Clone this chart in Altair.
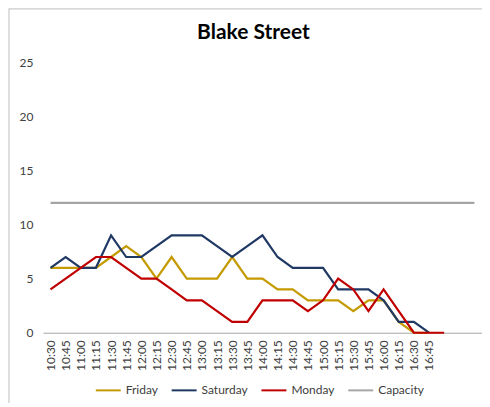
import altair as alt
import pandas as pd

times = ["10:30", "10:45", "11:00", "11:15", "11:30", "11:45", "12:00", "12:15",
         "12:30", "12:45", "13:00", "13:15", "13:30", "13:45", "14:00", "14:15",
         "14:30", "14:45", "15:00", "15:15", "15:30", "15:45", "16:00", "16:15",
         "16:30", "16:45", "17:00", "17:15", "17:30"]
friday = [6, 6, 6, 6, 7, 8, 7, 5, 7, 5, 5, 5, 7, 5, 5, 4, 4, 3, 3, 3, 2, 3, 3, 1, 0, 0]
saturday = [6, 7, 6, 6, 9, 7, 7, 8, 9, 9, 9, 8, 7, 8, 9, 7, 6, 6, 6, 4, 4, 4, 3, 1, 1, 0]
monday = [4, 5, 6, 7, 7, 6, 5, 5, 4, 3, 3, 2, 1, 1, 3, 3, 3, 2, 3, 5, 4, 2, 4, 2, 0, 0, 0]
capacity = [12, 12, 12, 12, 12, 12, 12, 12, 12, 12, 12, 12, 12, 12, 12, 12, 12, 12,
            12, 12, 12, 12, 12, 12, 12, 12, 12, 12, 12]
last_label = "16:45"
title_text = "Blake Street"

series = {"Friday": friday, "Saturday": saturday, "Monday": monday, "Capacity": capacity}
names = list(series.keys())
colors = ["#C49A00", "#1F3864", "#C00000", "#A5A5A5"]

rows = []
for name, vals in series.items():
    for i, v in enumerate(vals):
        rows.append({"time": times[i], "value": v, "series": name, "order": names.index(name)})
df = pd.DataFrame(rows)
tdf = pd.DataFrame({"title": [title_text]})

FONT = "Lato"

lines = alt.Chart(df).mark_line(strokeWidth=2.2).encode(
    x=alt.X("time:O", sort=times, scale=alt.Scale(domain=times, padding=0.5),
            axis=alt.Axis(title=None, labelAngle=-90, ticks=False, domainColor="#A6A6A6",
                          labelExpr=f"datum.value > '{last_label}' ? '' : datum.value",
                          labelPadding=7, labelFontSize=12, labelColor="#404040",
                          labelFont=FONT)),
    y=alt.Y("value:Q", scale=alt.Scale(domain=[0, 25]),
            axis=alt.Axis(title=None, values=[0, 5, 10, 15, 20, 25], grid=False, ticks=False,
                          domain=False, labelPadding=10, labelFontSize=12,
                          labelColor="#404040", labelFont=FONT)),
    color=alt.Color("series:N", sort=names, scale=alt.Scale(domain=names, range=colors),
                    legend=alt.Legend(title=None, orient="none", direction="horizontal",
                                      legendX=52, legendY=315,
                                      symbolType="stroke", symbolSize=625,
                                      symbolStrokeWidth=2, labelFontSize=12,
                                      labelFont=FONT, labelColor="#404040",
                                      columnPadding=9)),
    detail="series:N",
    order="order:Q",
)

title = alt.Chart(tdf).mark_text(font=FONT, fontSize=21, fontWeight="bold", color="#000000",
                                 align="center", baseline="middle").encode(
    text="title:N", x=alt.value(211), y=alt.value(-29)
)

border_left = alt.Chart(tdf).mark_rule(color="#BFBFBF", strokeWidth=1).encode(
    x=alt.value(-34), y=alt.value(-54), y2=alt.value(345)
)
border_top = alt.Chart(tdf).mark_rule(color="#BFBFBF", strokeWidth=1).encode(
    x=alt.value(-34), x2=alt.value(460), y=alt.value(-53.5)
)

chart = alt.layer(border_left, border_top, lines, title).properties(
    width=440,
    height=271,
    autosize=alt.AutoSizeParams(type="none"),
    padding={"left": 35, "top": 54, "right": 0, "bottom": 70},
).configure_view(stroke=None)

chart.save("out.html", embed_options={"renderer": "svg", "actions": False})
